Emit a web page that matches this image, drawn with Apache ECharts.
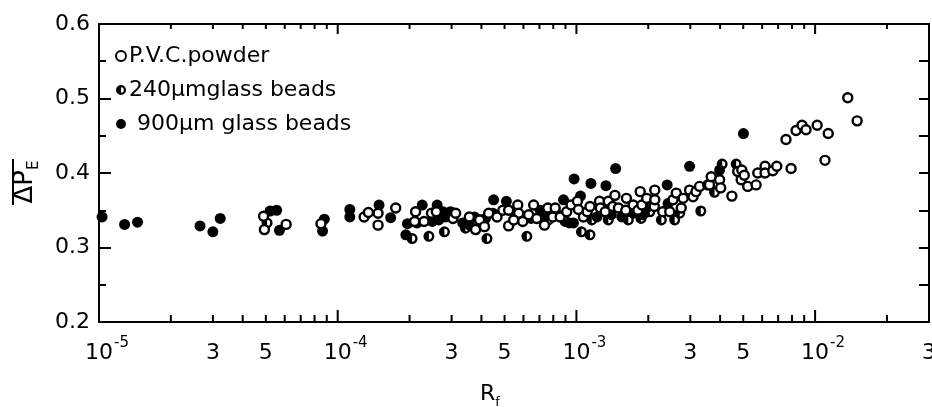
<!DOCTYPE html>
<html>
<head>
<meta charset="utf-8">
<script src="https://cdn.jsdelivr.net/npm/echarts@6/dist/echarts.min.js"></script>
<style>
html, body { margin: 0; padding: 0; background: #fff; }
#chart { width: 932px; height: 407px; }
</style>
</head>
<body>
<div id="chart"></div>
<script>
// Mean entrance pressure drop against R_f, three bed materials.
// Each point: [R_f, mean ΔP_E]
const pvcPowder = [
  [4.89e-5, 0.342], [4.93e-5, 0.324], [6.08e-5, 0.331], [8.51e-5, 0.332],
  [1.29e-4, 0.341], [1.345e-4, 0.347], [1.476e-4, 0.346], [1.476e-4, 0.330],
  [1.75e-4, 0.353], [2.10e-4, 0.335], [2.12e-4, 0.348], [2.30e-4, 0.335],
  [2.47e-4, 0.346], [2.59e-4, 0.348], [3.04e-4, 0.339], [3.12e-4, 0.346],
  [3.56e-4, 0.341], [3.78e-4, 0.324], [3.93e-4, 0.337], [4.12e-4, 0.328],
  [4.29e-4, 0.346], [4.65e-4, 0.341], [4.92e-4, 0.350], [5.20e-4, 0.350],
  [5.20e-4, 0.329], [5.68e-4, 0.357], [5.73e-4, 0.346], [5.46e-4, 0.337],
  [5.96e-4, 0.335], [6.31e-4, 0.344], [6.62e-4, 0.357], [6.82e-4, 0.339],
  [7.35e-4, 0.330], [7.59e-4, 0.353], [7.96e-4, 0.341], [8.15e-4, 0.353],
  [8.55e-4, 0.341], [9.11e-4, 0.348], [9.50e-4, 0.357], [1.01e-3, 0.362],
  [1.02e-3, 0.351], [1.07e-3, 0.341], [1.11e-3, 0.348], [1.14e-3, 0.355],
  [1.25e-3, 0.362], [1.26e-3, 0.353], [1.32e-3, 0.348], [1.36e-3, 0.362],
  [1.42e-3, 0.355], [1.45e-3, 0.370], [1.50e-3, 0.353], [1.61e-3, 0.350],
  [1.62e-3, 0.366], [1.73e-3, 0.357], [1.81e-3, 0.350], [1.85e-3, 0.375],
  [1.88e-3, 0.357], [1.97e-3, 0.366], [2.12e-3, 0.355], [2.13e-3, 0.377],
  [2.13e-3, 0.364], [2.30e-3, 0.348], [2.46e-3, 0.348], [2.54e-3, 0.364],
  [2.62e-3, 0.373], [2.75e-3, 0.353], [2.80e-3, 0.366], [2.98e-3, 0.377],
  [3.08e-3, 0.368], [3.17e-3, 0.375], [3.28e-3, 0.382], [3.55e-3, 0.384],
  [3.61e-3, 0.384], [3.67e-3, 0.395], [3.98e-3, 0.391], [4.02e-3, 0.380],
  [4.48e-3, 0.369], [4.74e-3, 0.402], [4.93e-3, 0.404], [4.90e-3, 0.391],
  [5.05e-3, 0.397], [5.22e-3, 0.382], [5.66e-3, 0.384], [5.75e-3, 0.400],
  [6.17e-3, 0.409], [6.17e-3, 0.400], [6.65e-3, 0.403], [6.91e-3, 0.409],
  [7.93e-3, 0.406], [7.55e-3, 0.445], [8.32e-3, 0.457], [8.81e-3, 0.464],
  [9.16e-3, 0.458], [1.02e-2, 0.464], [1.135e-2, 0.453], [1.10e-2, 0.417],
  [1.37e-2, 0.501], [1.50e-2, 0.470]
];

const glassBeads240 = [
  [5.06e-5, 0.333], [2.05e-4, 0.312], [2.41e-4, 0.315], [2.80e-4, 0.321],
  [3.43e-4, 0.326], [4.22e-4, 0.312], [6.20e-4, 0.315], [7.64e-4, 0.337],
  [8.97e-4, 0.335], [9.35e-4, 0.333], [1.05e-3, 0.321], [1.14e-3, 0.317],
  [1.16e-3, 0.337], [1.36e-3, 0.337], [1.65e-3, 0.337], [1.865e-3, 0.339],
  [2.03e-3, 0.348], [2.27e-3, 0.337], [2.58e-3, 0.337], [2.71e-3, 0.346],
  [3.32e-3, 0.349], [3.79e-3, 0.374], [4.08e-3, 0.412], [4.67e-3, 0.412]
];

const glassBeads900 = [
  [1.03e-5, 0.341], [1.28e-5, 0.331], [1.45e-5, 0.334], [2.65e-5, 0.329],
  [3.00e-5, 0.321], [3.22e-5, 0.339], [5.21e-5, 0.349], [5.55e-5, 0.350],
  [5.70e-5, 0.323], [8.79e-5, 0.338], [8.64e-5, 0.322], [1.124e-4, 0.351],
  [1.124e-4, 0.341], [1.49e-4, 0.357], [1.667e-4, 0.340], [1.96e-4, 0.332],
  [1.93e-4, 0.317], [2.26e-4, 0.357], [2.15e-4, 0.333], [2.61e-4, 0.357],
  [2.49e-4, 0.335], [2.65e-4, 0.337], [2.76e-4, 0.348], [2.97e-4, 0.348],
  [2.83e-4, 0.341], [3.34e-4, 0.333], [3.57e-4, 0.330], [3.74e-4, 0.341],
  [3.96e-4, 0.337], [4.47e-4, 0.346], [4.50e-4, 0.364], [4.16e-4, 0.339],
  [5.09e-4, 0.362], [5.50e-4, 0.346], [6.46e-4, 0.339], [7.05e-4, 0.350],
  [7.28e-4, 0.344], [8.36e-4, 0.344], [8.83e-4, 0.364], [9.72e-4, 0.333],
  [9.78e-4, 0.392], [1.04e-3, 0.369], [1.15e-3, 0.386], [1.22e-3, 0.341],
  [1.33e-3, 0.383], [1.40e-3, 0.344], [1.46e-3, 0.406], [1.55e-3, 0.341],
  [1.73e-3, 0.346], [1.90e-3, 0.344], [2.00e-3, 0.355], [2.40e-3, 0.384],
  [2.42e-3, 0.359], [2.98e-3, 0.409], [3.98e-3, 0.404], [5.01e-3, 0.453]
];

const seriesNames = ['P.V.C.powder', '240μmglass beads', '900μm glass beads'];

// Axis ranges and tick labelling
const xMin = 1e-5, xMax = 3e-2;
const yMin = 0.2, yMax = 0.6, yStep = 0.1;
const decades = [1e-5, 1e-4, 1e-3, 1e-2];
const minorMultipliers = [2, 3, 4, 5, 6, 7, 8, 9];
const xTickLabelValues = [1e-5, 3e-5, 5e-5, 1e-4, 3e-4, 5e-4, 1e-3, 3e-3, 5e-3, 1e-2, 3e-2];
const xTickLabels = ['10^-5', '3', '5', '10^-4', '3', '5', '10^-3', '3', '5', '10^-2', '3'];

const FONT = 'DejaVu Sans';
const TICK_FONT_SIZE = 22;

// tick rows: [value, yBase, isDecade, labelIndex]
const tickRows = [];
decades.forEach(function (d) {
  tickRows.push([d, yMin, 1, xTickLabelValues.indexOf(d)]);
  minorMultipliers.forEach(function (m) {
    const v = +(m * d).toPrecision(6);
    if (v <= xMax * 1.0000001) {
      let li = -1;
      xTickLabelValues.forEach(function (lv, i) { if (Math.abs(lv - v) / v < 1e-6) li = i; });
      tickRows.push([v, yMin, 0, li]);
    }
  });
});

// half-filled circle: ring with its left half solid
const halfCircle = 'path://M10,0A10,10 0 1,1 10,20A10,10 0 1,1 10,0Z' +
  'M10,4.4L10,15.6A5.6,5.6 0 0,0 10,4.4Z';

function renderXTicks(params, api) {
  const v = api.value(0);
  const isDecade = api.value(2) === 1;
  const li = api.value(3);
  const b = api.coord([v, yMin]);
  const t = api.coord([v, yMax]);
  const children = [
    { type: 'line', shape: { x1: b[0], y1: b[1], x2: b[0], y2: b[1] - (isDecade ? 12 : 7) },
      style: { stroke: '#000', lineWidth: 2 } },
    { type: 'line', shape: { x1: t[0], y1: t[1], x2: t[0], y2: t[1] + (isDecade ? 10 : 5) },
      style: { stroke: '#000', lineWidth: 2 } }
  ];
  if (li >= 0) {
    const lab = xTickLabels[li];
    if (lab.indexOf('^') >= 0) {
      const parts = lab.split('^');
      children.push({
        type: 'text',
        style: {
          text: '{b|' + parts[0] + '}{s|' + parts[1] + '}',
          x: b[0] - 14, y: b[1] + 14,
          align: 'left', verticalAlign: 'top',
          rich: {
            b: { fontFamily: FONT, fontSize: TICK_FONT_SIZE, lineHeight: 28, verticalAlign: 'bottom', fill: '#000' },
            s: { fontFamily: FONT, fontSize: 15, verticalAlign: 'top', fill: '#000', padding: [0, 0, 0, 1] }
          }
        }
      });
    } else {
      children.push({
        type: 'text',
        style: {
          text: lab, x: b[0], y: b[1] + 20,
          align: 'center', verticalAlign: 'top',
          fontFamily: FONT, fontSize: TICK_FONT_SIZE, fill: '#000'
        }
      });
    }
  }
  return { type: 'group', children: children };
}

const chart = echarts.init(document.getElementById('chart'), null, { renderer: 'canvas' });

const axisLineStyle = { color: '#000', width: 2 };

chart.setOption({
  animation: false,
  backgroundColor: '#fff',
  grid: { left: 99, right: 3, top: 24, bottom: 85, containLabel: false },
  legend: {
    data: seriesNames,
    orient: 'vertical',
    left: 115,
    top: 45,
    itemWidth: 10,
    itemHeight: 10,
    itemGap: 12,
    padding: 0,
    selectedMode: false,
    formatter: function (name) {
      return name === seriesNames[2] ? '{gap|}' + name : name;
    },
    textStyle: {
      fontFamily: FONT, fontSize: 22, color: '#000', padding: [0, 0, 0, -2],
      rich: { gap: { width: 8 } }
    }
  },
  xAxis: [
    {
      type: 'log', logBase: 10, min: xMin, max: xMax, position: 'bottom',
      axisLine: { show: true, lineStyle: axisLineStyle },
      axisTick: { show: false }, axisLabel: { show: false }, splitLine: { show: false }
    },
    {
      type: 'log', logBase: 10, min: xMin, max: xMax, position: 'top',
      axisLine: { show: true, lineStyle: axisLineStyle },
      axisTick: { show: false }, axisLabel: { show: false }, splitLine: { show: false }
    }
  ],
  yAxis: [
    {
      type: 'value', min: yMin, max: yMax, interval: yStep, position: 'left',
      axisLine: { show: true, lineStyle: axisLineStyle },
      axisTick: { show: true, inside: true, length: 12, lineStyle: { color: '#000', width: 2 } },
      minorTick: { show: true, splitNumber: 2, length: 7, lineStyle: { color: '#000', width: 2 } },
      axisLabel: {
        margin: 9, fontFamily: FONT, fontSize: TICK_FONT_SIZE, color: '#000',
        formatter: function (v) { return v.toFixed(1); }
      },
      splitLine: { show: false }
    },
    {
      type: 'value', min: yMin, max: yMax, interval: yStep, position: 'right',
      axisLine: { show: true, lineStyle: axisLineStyle },
      axisTick: { show: true, inside: true, length: 10, lineStyle: { color: '#000', width: 2 } },
      minorTick: { show: true, splitNumber: 2, length: 10, lineStyle: { color: '#000', width: 2 } },
      axisLabel: { show: false },
      splitLine: { show: false }
    }
  ],
  graphic: [
    {
      type: 'text', x: 27, y: 182, rotation: Math.PI / 2,
      style: {
        text: '{m|ΔP}{s|E}', align: 'center', verticalAlign: 'middle',
        rich: {
          m: { fontFamily: FONT, fontSize: 26, fill: '#000', lineHeight: 30, verticalAlign: 'top' },
          s: { fontFamily: FONT, fontSize: 15, fill: '#000', verticalAlign: 'bottom' }
        }
      }
    },
    {
      // bar over the ΔP_E symbol
      type: 'line',
      shape: { x1: 13, y1: 159, x2: 13, y2: 205 },
      style: { stroke: '#000', lineWidth: 2 }
    },
    {
      type: 'text', x: 490, y: 396,
      style: {
        text: '{m|R}{s|f}', align: 'center', verticalAlign: 'middle',
        rich: {
          m: { fontFamily: FONT, fontSize: 22, fill: '#000', lineHeight: 26, verticalAlign: 'top' },
          s: { fontFamily: FONT, fontSize: 13, fill: '#000', verticalAlign: 'bottom' }
        }
      }
    }
  ],
  series: [
    {
      name: 'x ticks', type: 'custom', xAxisIndex: 0, yAxisIndex: 0,
      data: tickRows, renderItem: renderXTicks, clip: false, silent: true, z: 5
    },
    {
      name: seriesNames[2], type: 'scatter', data: glassBeads900,
      symbol: 'circle', symbolSize: 11,
      itemStyle: { color: '#000', opacity: 1 }, z: 2
    },
    {
      name: seriesNames[1], type: 'scatter', data: glassBeads240,
      symbol: halfCircle, symbolSize: 11,
      itemStyle: { color: '#000', opacity: 1 }, z: 3
    },
    {
      name: seriesNames[0], type: 'scatter', data: pvcPowder,
      symbol: 'circle', symbolSize: 9,
      itemStyle: { color: '#fff', borderColor: '#000', borderWidth: 2.4, opacity: 1 }, z: 4
    }
  ]
});
</script>
</body>
</html>
